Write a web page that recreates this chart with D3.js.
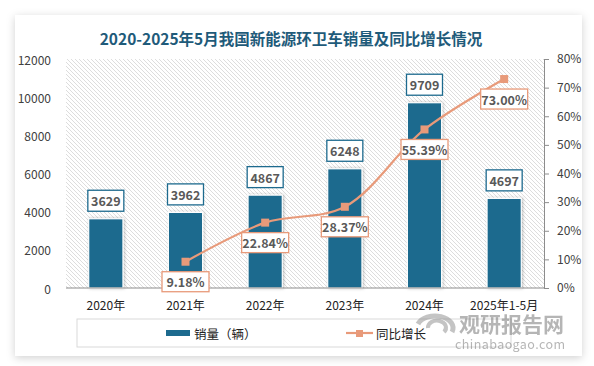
<!DOCTYPE html>
<html><head><meta charset="utf-8">
<script src="https://cdn.jsdelivr.net/npm/d3@7"></script>
<style>
html,body{margin:0;padding:0;background:#fff;}
text{font-family:"Noto Sans CJK SC","Noto Sans",sans-serif;}
</style></head>
<body><svg id="c" width="594" height="366"></svg>
<script>
const categories = ["2020年","2021年","2022年","2023年","2024年","2025年1-5月"];
const sales = [3629, 3962, 4867, 6248, 9709, 4697];
const growth = [null, 9.18, 22.84, 28.37, 55.39, 73.00];
const leftTicks = [0,2000,4000,6000,8000,10000,12000];
const rightTicks = [0,10,20,30,40,50,60,70,80];
const titleText = "2020-2025年5月我国新能源环卫车销量及同比增长情况";
const legendNames = ["销量（辆）","同比增长"];

const barColor = "#1d6a8e", lineColor = "#e89a7a", labelColor = "#595959";
const svg = d3.select("#c");
const defs = svg.append("defs");
const f = defs.append("filter").attr("id","sh").attr("x","-5%").attr("y","-5%").attr("width","110%").attr("height","112%");
f.append("feDropShadow").attr("dx",0).attr("dy",2).attr("stdDeviation",4).attr("flood-color","#000").attr("flood-opacity",0.18);
const p = defs.append("pattern").attr("id","hatch").attr("patternUnits","userSpaceOnUse").attr("width",4).attr("height",4);
p.append("rect").attr("width",4).attr("height",4).attr("fill","#fff");
p.append("path").attr("d","M-1,-1 L5,5 M-1,3 L1,5 M3,-1 L5,1").attr("stroke","#d9d9d9").attr("stroke-width",0.9);
const bs = defs.append("filter").attr("id","bs").attr("x","-20%").attr("y","-10%").attr("width","150%").attr("height","130%");
bs.append("feDropShadow").attr("dx",1).attr("dy",0).attr("stdDeviation",1.5).attr("flood-color","#000").attr("flood-opacity",0.25);

// card
svg.append("rect").attr("x",15).attr("y",15).attr("width",567).attr("height",341).attr("fill","#fff").attr("filter","url(#sh)");

svg.append("text").attr("x",291).attr("y",38).attr("text-anchor","middle").attr("dominant-baseline","central")
  .attr("font-size",15.5).attr("font-weight","bold").attr("fill","#1f5b7a").text(titleText);

const L=66, R=544, T=59, B=288;
const x = d3.scaleBand().domain(categories).range([L,R]);
const y = d3.scaleLinear().domain([0,12000]).range([B,T]);
const y2 = d3.scaleLinear().domain([0,80]).range([B,T]);

svg.append("rect").attr("x",L).attr("y",T).attr("width",R-L).attr("height",B-T).attr("fill","url(#hatch)");

// left axis labels
svg.append("g").selectAll("text").data(leftTicks).join("text")
  .attr("x",51).attr("y",d=>y(d)).attr("text-anchor","end").attr("dominant-baseline","central")
  .attr("font-size",12).attr("fill","#404040").text(d=>d);
// right axis
const ra = svg.append("g").attr("transform",`translate(${R},0)`).call(d3.axisRight(y2).tickValues(rightTicks).tickSize(5).tickFormat(d=>d+"%"));
ra.select(".domain").attr("stroke","#8c8c8c");
ra.selectAll(".tick line").attr("stroke","#8c8c8c");
ra.selectAll(".tick text").attr("x",13).attr("font-size",12).attr("fill","#404040").attr("font-family","'Noto Sans CJK SC','Noto Sans',sans-serif");

// bars
const bw = x.bandwidth()*0.43;
svg.append("g").selectAll("rect").data(sales).join("rect")
  .attr("x",(d,i)=>x(categories[i])+x.bandwidth()/2-bw/2).attr("y",d=>y(d))
  .attr("width",bw).attr("height",d=>B-y(d)).attr("fill",barColor).attr("stroke","#fff").attr("stroke-width",1.2).attr("filter","url(#bs)");

// bottom axis
svg.append("line").attr("x1",L).attr("x2",R).attr("y1",B).attr("y2",B).attr("stroke","#8c8c8c").attr("stroke-width",1);
svg.append("g").selectAll("text").data(categories).join("text")
  .attr("x",d=>x(d)+x.bandwidth()/2).attr("y",304).attr("text-anchor","middle").attr("dominant-baseline","central")
  .attr("font-size",12).attr("fill","#222").text(d=>d);

// bar labels
const bl = svg.append("g").selectAll("g").data(sales).join("g")
  .attr("transform",(d,i)=>`translate(${x(categories[i])+x.bandwidth()/2},${y(d)-18})`);
bl.append("rect").attr("x",-18).attr("y",-10.5).attr("width",36).attr("height",21).attr("fill","#fff").attr("stroke",barColor).attr("stroke-width",1.3);
bl.append("text").attr("text-anchor","middle").attr("dominant-baseline","central").attr("font-size",12.5).attr("font-weight","bold")
  .attr("font-family","'Open Sans',sans-serif").attr("fill",labelColor).text(d=>d);

// line
const pts = growth.map((g,i)=>({c:categories[i],g})).filter(d=>d.g!==null);
const line = d3.line().x(d=>x(d.c)+x.bandwidth()/2).y(d=>y2(d.g)).curve(d3.curveCatmullRom.alpha(0.5));
svg.append("path").datum(pts).attr("d",line).attr("fill","none").attr("stroke",lineColor).attr("stroke-width",2.2);
svg.append("g").selectAll("rect").data(pts).join("rect")
  .attr("x",d=>x(d.c)+x.bandwidth()/2-4).attr("y",d=>y2(d.g)-4).attr("width",8).attr("height",8).attr("fill",lineColor);
const pl = svg.append("g").selectAll("g").data(pts).join("g")
  .attr("transform",d=>`translate(${x(d.c)+x.bandwidth()/2},${y2(d.g)+20})`);
pl.append("rect").attr("x",-23.5).attr("y",-10).attr("width",47).attr("height",20).attr("fill","#fff").attr("stroke",lineColor).attr("stroke-width",1.3);
pl.append("text").attr("text-anchor","middle").attr("dominant-baseline","central").attr("font-size",12.5).attr("font-weight","bold")
  .attr("font-family","'Open Sans',sans-serif").attr("fill",labelColor).text(d=>d.g.toFixed(2)+"%");

// legend
svg.append("rect").attr("x",77).attr("y",319).attr("width",434).attr("height",28).attr("fill","none").attr("stroke","#d9d9d9");
svg.append("rect").attr("x",166).attr("y",330).attr("width",24).attr("height",6).attr("fill",barColor);
svg.append("text").attr("x",194).attr("y",333).attr("dominant-baseline","central").attr("font-size",12.5).attr("fill","#222").text(legendNames[0]);
svg.append("line").attr("x1",346).attr("x2",373).attr("y1",333).attr("y2",333).attr("stroke",lineColor).attr("stroke-width",2.2);
svg.append("rect").attr("x",356).attr("y",330).attr("width",7).attr("height",7).attr("fill",lineColor);
svg.append("text").attr("x",376).attr("y",333).attr("dominant-baseline","central").attr("font-size",12.5).attr("fill","#222").text(legendNames[1]);

// watermark
const wm = svg.append("g").attr("opacity",0.5);
wm.append("path").attr("d","M418,324 A18,12 0 1,1 452,332").attr("fill","none").attr("stroke","#8a8a8a").attr("stroke-width",5);
wm.append("path").attr("d","M428,328 A9,7 0 1,1 444,332").attr("fill","none").attr("stroke","#8a8a8a").attr("stroke-width",4);
wm.append("text").attr("x",459).attr("y",323).attr("dominant-baseline","central").attr("font-size",21).attr("font-weight","bold").attr("fill","#6e6e6e").text("观研报告网");
wm.append("text").attr("x",455).attr("y",343).attr("dominant-baseline","central").attr("font-size",12.5).attr("fill","#6e6e6e").attr("font-family","'DejaVu Sans',sans-serif").attr("textLength",110).text("chinabaogao.com");
</script></body></html>
